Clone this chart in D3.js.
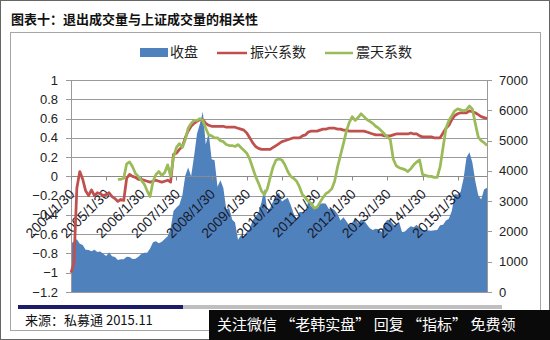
<!DOCTYPE html>
<html>
<head>
<meta charset="utf-8">
<script src="https://cdn.jsdelivr.net/npm/d3@7/dist/d3.min.js"></script>
<style>
  html, body { margin: 0; padding: 0; background: #fff; }
  svg { display: block; }
</style>
</head>
<body>
<svg id="chart" width="550" height="340"></svg>
<script>
// ---------------- DATA ----------------
const startYear = 2004;           // first month: 2004/1
const yearTickLabels = ["2004/1/30","2005/1/30","2006/1/30","2007/1/30","2008/1/30","2009/1/30",
  "2010/1/30","2011/1/30","2012/1/30","2013/1/30","2014/1/30","2015/1/30"];
const leftTicks = [-1.2,-1,-0.8,-0.6,-0.4,-0.2,0,0.2,0.4,0.6,0.8,1];
const rightTicks = [0,1000,2000,3000,4000,5000,6000,7000];
const seriesNames = ["收盘","振兴系数","震天系数"];

// 收盘 (Shanghai Composite monthly close, right axis)
const closeVals = [
  1590,1675,1742,1595,1555,1399,1386,1342,1396,1320,1340,1266,
  1191,1306,1181,1159,1060,1080,1083,1162,1155,1092,1099,1161,
  1258,1299,1298,1440,1641,1672,1612,1658,1752,1837,2099,2675,
  2786,2881,3183,3841,4109,3820,4471,5218,5552,5954,4871,5262,
  4383,4348,3473,3693,3433,2736,2775,2397,2293,1729,1871,1821,
  1990,2082,2373,2477,2633,2959,3412,2667,2779,2996,3195,3277,
  2989,3051,3110,2871,2592,2398,2638,2639,2656,2979,2820,2808,
  2790,2905,2928,2911,2743,2762,2701,2568,2359,2468,2333,2199,
  2292,2428,2263,2397,2373,2225,2103,2047,2086,2069,1980,2269,
  2385,2366,2237,2178,2301,1979,1994,2098,2175,2141,2220,2116,
  2033,2056,2033,2026,2039,2048,2201,2217,2364,2420,2683,3235,
  3210,3310,3748,4442,4612,4277,3664,3206,3053,3383,3445
];

// 振兴系数 (left axis)
const zhenxingVals = [
  -1.0,-0.9,-0.12,0.05,-0.03,-0.15,-0.2,-0.14,-0.2,-0.17,-0.18,-0.2,
  -0.19,-0.17,-0.21,-0.23,-0.26,-0.24,-0.25,-0.02,0.02,0.0,-0.01,-0.03,
  -0.03,-0.04,-0.05,-0.06,-0.05,-0.04,-0.05,-0.06,-0.05,-0.04,-0.06,0.23,
  0.24,0.28,0.31,0.4,0.47,0.52,0.55,0.57,0.59,0.59,0.55,0.53,
  0.52,0.52,0.52,0.52,0.52,0.51,0.51,0.51,0.51,0.5,0.49,0.48,
  0.45,0.4,0.35,0.31,0.29,0.28,0.28,0.28,0.28,0.3,0.32,0.34,
  0.36,0.37,0.38,0.39,0.4,0.4,0.4,0.42,0.43,0.46,0.47,0.47,
  0.47,0.48,0.49,0.49,0.5,0.5,0.5,0.49,0.49,0.48,0.48,0.47,
  0.47,0.47,0.47,0.47,0.47,0.46,0.45,0.44,0.43,0.43,0.43,0.42,
  0.42,0.42,0.43,0.44,0.44,0.44,0.44,0.44,0.45,0.44,0.44,0.42,
  0.41,0.41,0.41,0.41,0.4,0.4,0.4,0.45,0.5,0.53,0.59,0.63,
  0.65,0.66,0.66,0.66,0.68,0.67,0.66,0.64,0.62,0.61,0.6
];

// 震天系数 (left axis), starts mid-2005
const zhentianVals = [
  null,null,null,null,null,null,null,null,null,null,null,null,
  null,null,null,null,-0.03,-0.03,-0.02,0.13,0.15,0.1,0.03,0.0,
  -0.04,-0.08,-0.15,-0.21,-0.05,0.02,0.05,0.01,0.04,0.12,0.0,0.2,
  0.3,0.34,0.3,0.38,0.5,0.55,0.58,0.58,0.6,0.58,0.5,0.43,
  0.42,0.4,0.4,0.37,0.36,0.33,0.32,0.32,0.31,0.33,0.3,0.27,
  0.24,0.18,0.09,0.0,-0.07,-0.15,-0.19,-0.13,-0.01,0.1,0.17,0.18,
  0.17,0.12,0.05,0.0,-0.02,-0.05,-0.11,-0.19,-0.22,-0.26,-0.28,-0.33,
  -0.32,-0.27,-0.22,-0.18,-0.16,-0.13,-0.05,0.1,0.22,0.34,0.47,0.56,
  0.62,0.58,0.61,0.65,0.62,0.59,0.57,0.55,0.52,0.5,0.47,0.44,
  0.41,0.38,0.18,0.11,0.09,0.08,0.07,0.05,0.08,0.12,0.15,0.17,
  0.02,0.01,0.0,0.0,-0.01,-0.01,0.1,0.3,0.5,0.58,0.63,0.68,
  0.7,0.69,0.68,0.69,0.73,0.7,0.55,0.41,0.37,0.35,0.32
];

// ---------------- DRAW ----------------
const svg = d3.select("#chart");
const CJK = "'Noto Sans CJK SC', 'Noto Sans', sans-serif";
const LAT = "'Liberation Sans', Arial, sans-serif";

const plot = { left: 71, right: 487, top: 80, bottom: 292 };
const x = d3.scaleLinear().domain([0, closeVals.length - 1]).range([plot.left, plot.right]);
const yL = d3.scaleLinear().domain([-1.2, 1]).range([plot.bottom, plot.top]);
const yR = d3.scaleLinear().domain([0, 7000]).range([plot.bottom, plot.top]);

// frame
svg.append("rect").attr("x",0.5).attr("y",0.5).attr("width",549).attr("height",339)
  .attr("fill","#fff").attr("stroke","#666").attr("stroke-width",1);
svg.append("rect").attr("x",10.5).attr("y",32.5).attr("width",530).attr("height",298)
  .attr("fill","#fff").attr("stroke","#a6a6a6").attr("stroke-width",1);

// title
svg.append("text").attr("x",11).attr("y",24)
  .attr("font-family",CJK).attr("font-size",13).attr("font-weight","bold").attr("fill","#111")
  .text("图表十：退出成交量与上证成交量的相关性");

// gridlines + left ticks
const gGrid = svg.append("g");
leftTicks.forEach(t => {
  gGrid.append("line").attr("x1",plot.left-5).attr("x2",plot.right)
    .attr("y1",Math.round(yL(t))+0.5).attr("y2",Math.round(yL(t))+0.5)
    .attr("stroke","#9a9a9a").attr("stroke-width",1);
});

// area (收盘)
svg.append("path").datum(closeVals)
  .attr("fill","#4f81bd")
  .attr("d", d3.area().x((d,i)=>x(i)).y0(yR(0)).y1(d=>yR(d)));

// left axis labels
const gL = svg.append("g");
leftTicks.forEach(t => {
  gL.append("text").attr("x",58).attr("y",yL(t)).attr("dy","0.35em")
    .attr("text-anchor","end").attr("font-family",LAT).attr("font-size",13).attr("fill","#222")
    .text(d3.format("")(+t.toFixed(1)));
});
svg.append("line").attr("x1",plot.left+0.5).attr("x2",plot.left+0.5)
  .attr("y1",plot.top).attr("y2",plot.bottom).attr("stroke","#9a9a9a");

// right axis
const gR = svg.append("g");
svg.append("line").attr("x1",plot.right+0.5).attr("x2",plot.right+0.5)
  .attr("y1",plot.top).attr("y2",plot.bottom).attr("stroke","#9a9a9a");
rightTicks.forEach(t => {
  const yy = Math.round(yR(t))+0.5;
  gR.append("line").attr("x1",plot.right).attr("x2",plot.right+5).attr("y1",yy).attr("y2",yy)
    .attr("stroke","#9a9a9a");
  gR.append("text").attr("x",499).attr("y",yR(t)).attr("dy","0.35em")
    .attr("font-family",LAT).attr("font-size",13).attr("fill","#222").text(t);
});

// x axis at 0
const y0 = Math.round(yL(0))+0.5;
svg.append("line").attr("x1",plot.left).attr("x2",plot.right).attr("y1",y0).attr("y2",y0)
  .attr("stroke","#8a8a8a");
const gX = svg.append("g");
yearTickLabels.forEach((lab,k) => {
  const xx = Math.round(x(k*12))+0.5;
  gX.append("line").attr("x1",xx).attr("x2",xx).attr("y1",y0).attr("y2",y0+4).attr("stroke","#8a8a8a");
  gX.append("text")
    .attr("transform",`translate(${x(k*12)+1},${y0+15}) rotate(-45)`)
    .attr("text-anchor","end").attr("dy","0.35em")
    .attr("font-family",LAT).attr("font-size",14).attr("fill","#1a1a2a").text(lab);
});

// lines
const line = d3.line().defined(d=>d!=null).x((d,i)=>x(i)).y(d=>yL(d));
svg.append("path").datum(zhenxingVals).attr("fill","none").attr("stroke","#c0504d")
  .attr("stroke-width",2.75).attr("stroke-linejoin","round").attr("d",line);
svg.append("path").datum(zhentianVals).attr("fill","none").attr("stroke","#9bbb59")
  .attr("stroke-width",2.75).attr("stroke-linejoin","round").attr("d",line);

// legend
const lg = svg.append("g");
lg.append("rect").attr("x",140).attr("y",48).attr("width",28).attr("height",9).attr("fill","#4f81bd");
lg.append("text").attr("x",170).attr("y",57).attr("font-family",CJK).attr("font-size",14).attr("fill","#222").text(seriesNames[0]);
lg.append("line").attr("x1",217).attr("x2",247).attr("y1",53).attr("y2",53).attr("stroke","#c0504d").attr("stroke-width",2.5);
lg.append("text").attr("x",250).attr("y",57).attr("font-family",CJK).attr("font-size",14).attr("fill","#222").text(seriesNames[1]);
lg.append("line").attr("x1",325).attr("x2",353).attr("y1",53).attr("y2",53).attr("stroke","#9bbb59").attr("stroke-width",2.5);
lg.append("text").attr("x",356).attr("y",57).attr("font-family",CJK).attr("font-size",14).attr("fill","#222").text(seriesNames[2]);

// footer bars and source
svg.append("rect").attr("x",18).attr("y",305).attr("width",165).attr("height",4).attr("fill","#1c1c6b");
svg.append("rect").attr("x",183).attr("y",305).attr("width",319).attr("height",4).attr("fill","#bfbfbf");
svg.append("text").attr("x",25).attr("y",325).attr("font-family",CJK).attr("font-size",13).attr("fill","#111")
  .text("来源：私募通 2015.11");

// watermark band
svg.append("rect").attr("x",209).attr("y",310).attr("width",341).attr("height",30).attr("fill","#0a0a0a");
svg.append("text").attr("x",217).attr("y",330).attr("font-family",CJK).attr("font-size",15).attr("fill","#fff")
  .text("关注微信 “老韩实盘” 回复 “指标” 免费领");
</script>
</body>
</html>
